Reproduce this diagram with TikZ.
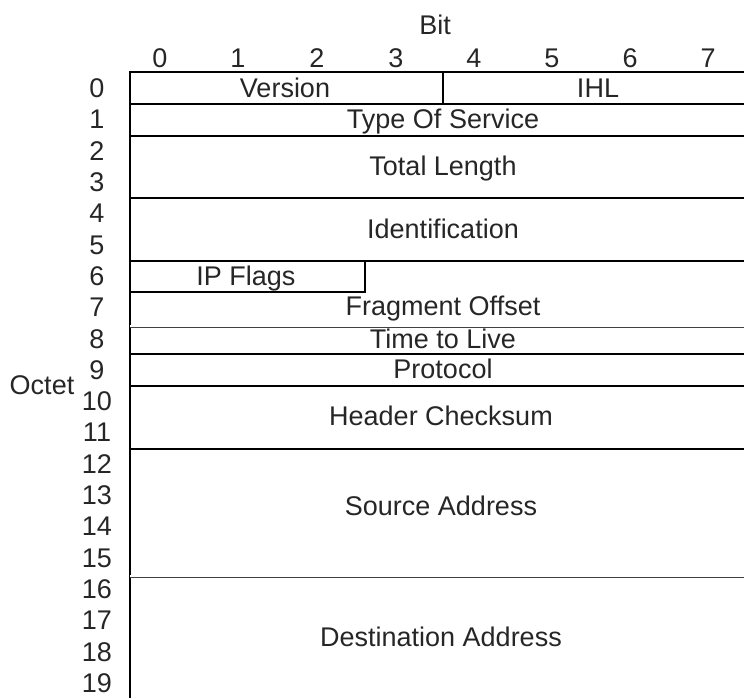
\documentclass[tikz,border=0pt]{standalone}
\usepackage{fontspec}
\setmainfont{Liberation Sans}

\begin{document}
\begin{tikzpicture}[x=0.5pt, y=-0.5pt,
    every node/.style={font=\fontsize{13.5}{15}\selectfont, text=black!85, inner sep=0pt, text height=9.6pt, text depth=0pt},
    sep/.style={line width=1.4pt},
    dsep/.style={draw=black!75, line width=0.45pt, double=white, double distance=0.6pt},
    borde/.style={line width=0.8pt}]
    \useasboundingbox (0,0) rectangle (744,697);
    \clip (0,0) rectangle (744,697);

    % Bits y octetos
    \node (bit) at (435,25) {Bit};
    \foreach \b/\x in {0/160, 1/238, 2/317, 3/396, 4/474, 5/552, 6/630, 7/708}
        \node (bit\b) at (\x,58) {\b};
    \node (octet) at (42,385) {Octet};
    \foreach \o in {0,...,19}
        \node (oct\o) at (97,{88+31.3*\o}) {\o};

    % Bordes
    \draw[borde] (750,72) -- (130,72) -- (130,700);
    \draw[borde] (443,72) -- (443,104);
    \draw[borde] (130,292) -- (365,292) -- (365,261);

    % Separadores
    \foreach \y in {104, 136, 198, 261, 354, 386, 449}
        \draw[sep] (130,\y) -- (750,\y);
    \foreach \y in {326, 576}
        \draw[dsep] (130,\y) -- (750,\y);

    % Campos
    \node (version) at (285,88) {Version};
    \node (ihl) at (598,88) {IHL};
    \node (tos) at (443,119) {Type Of Service};
    \node (len) at (443,166) {Total Length};
    \node (ident) at (443,229) {Identification};
    \node (flags) at (246,276) {IP Flags};
    \node (frag) at (443,306) {Fragment Offset};
    \node (ttl) at (443,339) {Time to Live};
    \node (proto) at (443,369) {Protocol};
    \node (check) at (441,416) {Header Checksum};
    \node (src) at (441,506) {Source Address};
    \node (dst) at (441,637) {Destination Address};
\end{tikzpicture}
\end{document}
